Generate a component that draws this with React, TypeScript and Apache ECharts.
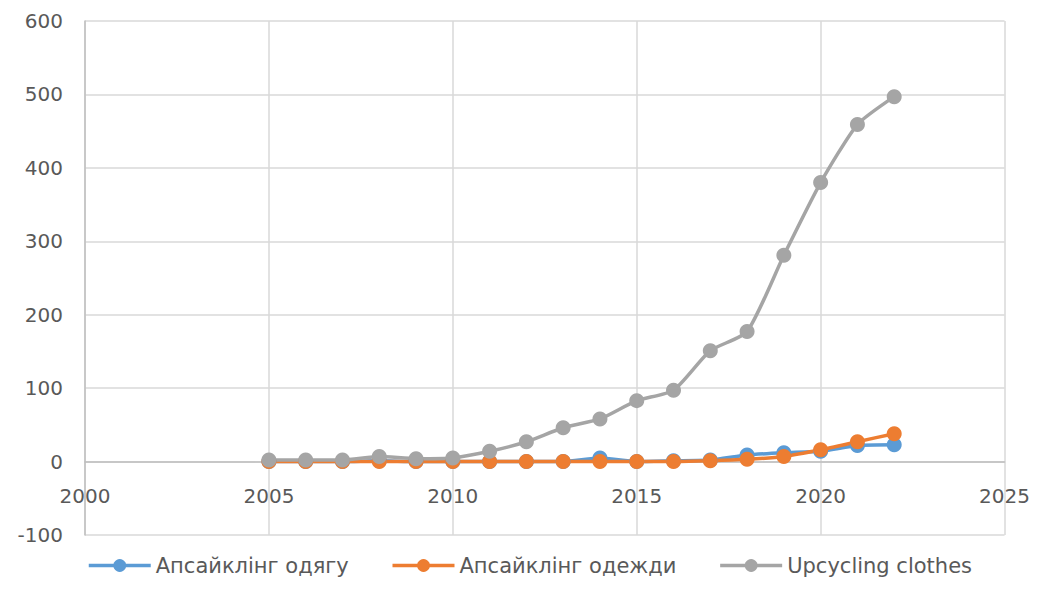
import React, { useEffect, useRef } from "react";
import * as echarts from "echarts";

const years = [2005, 2006, 2007, 2008, 2009, 2010, 2011, 2012, 2013, 2014, 2015, 2016, 2017, 2018, 2019, 2020, 2021, 2022];
const uaValues = [0, 0, 0, 1, 0, 0, 0, 0, 0, 5, 0, 1, 2, 9, 12, 14, 22, 23];
const ruValues = [0, 0, 0, 0, 0, 0, 0, 0, 0, 0, 0, 0, 1, 3, 7, 16, 27, 38];
const enValues = [2, 2, 2, 7, 4, 5, 14, 27, 46, 58, 83, 97, 151, 177, 281, 380, 459, 497];
const seriesNames = ["Апсайклінг одягу", "Апсайклінг одежди", "Upcycling clothes"];
const colors = ["#5b9bd5", "#ed7d31", "#a5a5a5"];

const gridTop = 13;
const gridBottom = 67;
const chartHeight = 594;
const yMin = -100;
const yMax = 600;

export default function App() {
  const ref = useRef<HTMLDivElement>(null);
  useEffect(() => {
    const chart = echarts.init(ref.current!, null, { renderer: "svg" });
    const data = [uaValues, ruValues, enValues];
    const plotH = chartHeight - gridTop - gridBottom;
    const zeroOffset = ((0 - yMin) / (yMax - yMin)) * plotH;
    chart.setOption({
      animation: false,
      color: colors,
      textStyle: { fontFamily: "DejaVu Sans" },
      grid: { left: 77, right: 23, top: gridTop, bottom: gridBottom },
      legend: {
        top: 542,
        left: 74,
        itemWidth: 62,
        itemHeight: 16,
        itemGap: 42,
        lineStyle: { width: 3.5 },
        textStyle: { fontSize: 21, color: "#595959", fontFamily: "DejaVu Sans" },
        data: seriesNames,
      },
      xAxis: {
        type: "value",
        min: 2000,
        max: 2025,
        interval: 5,
        offset: -zeroOffset,
        axisLine: { onZero: false, lineStyle: { color: "#bfbfbf", width: 1.5 } },
        axisTick: { show: false },
        axisLabel: { fontSize: 20, color: "#595959", margin: 24, formatter: (v: number) => String(v) },
        splitLine: { show: true, lineStyle: { color: "#d9d9d9", width: 1.5 } },
      },
      yAxis: {
        type: "value",
        min: yMin,
        max: yMax,
        interval: 100,
        axisLine: { show: true, lineStyle: { color: "#bfbfbf", width: 1.5 } },
        axisTick: { show: false },
        axisLabel: { fontSize: 20, color: "#595959", margin: 22, formatter: (v: number) => String(v) },
        splitLine: { show: true, lineStyle: { color: "#d9d9d9", width: 1.5 } },
      },
      series: seriesNames.map((name, i) => ({
        name,
        type: "line",
        data: years.map((y, j) => [y, data[i][j]]),
        symbol: "circle",
        symbolSize: 15,
        smooth: 0.2,
        lineStyle: { width: 3.5, color: colors[i] },
        itemStyle: { color: colors[i] },
      })),
    });
    return () => chart.dispose();
  }, []);
  return <div ref={ref} style={{ width: 1025, height: chartHeight }} />;
}
